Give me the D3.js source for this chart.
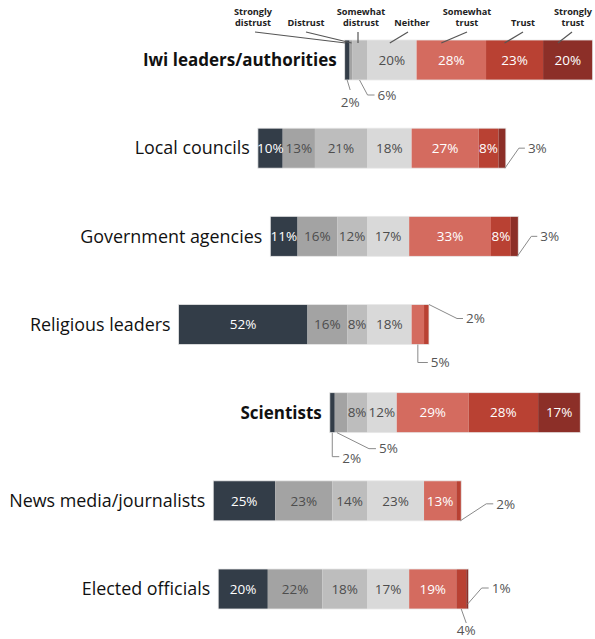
<!DOCTYPE html>
<html><head><meta charset="utf-8">
<script src="https://cdn.jsdelivr.net/npm/d3@7"></script>
<style>
body{margin:0;background:#fff;}
svg{display:block;font-family:"Open Sans",sans-serif;}
</style></head>
<body><svg id="c" width="595" height="639"></svg>
<script>
const categories = ["Iwi leaders/authorities","Local councils","Government agencies","Religious leaders","Scientists","News media/journalists","Elected officials"];
const boldCategories = ["Iwi leaders/authorities","Scientists"];
const levels = ["Strongly distrust","Distrust","Somewhat distrust","Neither","Somewhat trust","Trust","Strongly trust"];
const stronglyDistrust = [2,10,11,52,2,25,20];
const distrust         = [1,13,16,16,5,23,22];
const somewhatDistrust = [6,21,12,8,8,14,18];
const neither          = [20,18,17,18,12,23,17];
const somewhatTrust    = [28,27,33,5,29,13,19];
const trust            = [23,8,8,2,28,2,4];
const stronglyTrust    = [20,3,3,0,17,0,1];
const series = [stronglyDistrust,distrust,somewhatDistrust,neither,somewhatTrust,trust,stronglyTrust];
// small segments labelled outside the bar: [category index, level index]
const outsideLabels = [
  {c:0,l:0},{c:0,l:2},
  {c:1,l:6},{c:2,l:6},
  {c:3,l:5},{c:3,l:4},
  {c:4,l:0},{c:4,l:1},
  {c:5,l:5},
  {c:6,l:6},{c:6,l:5}
];

const colors = ["#333d48","#a3a3a3","#bdbdbd","#d9d9d9","#d46b5f","#b94133","#8c2f28"];
const textColors = ["#fff","#4d4d4d","#4d4d4d","#4d4d4d","#fff","#fff","#fff"];

const svg = d3.select("#c");
const x = d3.scaleLinear().domain([-100,100]).range([367-248,367+248]);
const bw = 40;
const yScale = d3.scalePoint().domain(categories).range([60,589]);

const rows = categories.map((cat,i)=>{
  const dist = series[0][i]+series[1][i]+series[2][i];
  let cur = -dist;
  const segs = series.map((s,l)=>{
    const seg = {cat,i,l,v:s[i],x0:cur,x1:cur+s[i]};
    cur += s[i];
    return seg;
  });
  return {cat,i,segs,start:-dist,end:cur};
});

const g = svg.append("g");
rows.forEach(r=>{
  const cy = yScale(r.cat);
  const top = cy - bw/2;
  const rg = g.append("g");
  rg.selectAll("rect").data(r.segs.filter(s=>s.v>0)).join("rect")
    .attr("x",s=>x(s.x0)).attr("y",top)
    .attr("width",s=>x(s.x1)-x(s.x0)).attr("height",bw)
    .attr("fill",s=>colors[s.l]);
  rg.append("rect").attr("x",x(r.start)).attr("y",top).attr("width",x(r.end)-x(r.start)).attr("height",bw)
    .attr("fill","none").attr("stroke","#e8e8e8").attr("stroke-width",0.8);
  rg.selectAll("text.v").data(r.segs.filter(s=>s.v>=7)).join("text").attr("class","v")
    .attr("x",s=>(x(s.x0)+x(s.x1))/2).attr("y",cy).attr("dy","0.35em")
    .attr("text-anchor","middle").attr("font-size",13.5)
    .attr("fill",s=>textColors[s.l]).text(s=>s.v+"%");
  const bold = boldCategories.includes(r.cat);
  rg.append("text").attr("x",x(r.start)-8).attr("y",cy).attr("dy","0.35em")
    .attr("text-anchor","end").attr("font-size",bold?17:17.9)
    .attr("font-weight",bold?700:400).attr("fill","#111").text(r.cat);
});

// leader label styles: offsets for the annotation paths
const leaderStyle = {
  "0-0":{from:"bottom",pts:[[0,0],[3,10]],tx:3,ty:22,anchor:"middle"},
  "0-2":{from:"bottom",pts:[[0,0],[8,15],[15,15]],tx:18,ty:15,anchor:"start"},
  "1-6":{from:"bottomright",pts:[[0,0],[14,-20],[20,-20]],tx:23,ty:-20,anchor:"start"},
  "2-6":{from:"bottomright",pts:[[0,0],[14,-20],[20,-20]],tx:23,ty:-20,anchor:"start"},
  "3-5":{from:"topright",pts:[[0,0],[28,14],[34,14]],tx:37,ty:14,anchor:"start"},
  "3-4":{from:"bottom",pts:[[0,0],[0,18],[10,18]],tx:13,ty:18,anchor:"start"},
  "4-0":{from:"bottom",pts:[[0,0],[0,24],[7,24]],tx:10,ty:26,anchor:"start"},
  "4-1":{from:"bottom",pts:[[-4,0],[28,16],[35,16]],tx:38,ty:16,anchor:"start"},
  "5-5":{from:"bottomright",pts:[[0,0],[26,-17],[33,-17]],tx:36,ty:-17,anchor:"start"},
  "6-6":{from:"bottomright",pts:[[0,-5],[14,-21],[21,-21]],tx:24,ty:-21,anchor:"start"},
  "6-5":{from:"bottom",pts:[[0,0],[5,14]],tx:5,ty:21,anchor:"middle"}
};
outsideLabels.forEach(o=>{
  const r = rows[o.c];
  const s = r.segs[o.l];
  const cy = yScale(r.cat);
  const st = leaderStyle[o.c+"-"+o.l];
  let ax, ay;
  if(st.from==="bottom"){ax=(x(s.x0)+x(s.x1))/2; ay=cy+bw/2;}
  else if(st.from==="bottomright"){ax=x(r.end)-1; ay=cy+bw/2;}
  else {ax=x(r.end); ay=cy-bw/2;}
  const line = d3.line();
  g.append("path").attr("d",line(st.pts.map(p=>[ax+p[0],ay+p[1]])))
    .attr("fill","none").attr("stroke","#8a8a8a").attr("stroke-width",1);
  g.append("text").attr("x",ax+st.tx).attr("y",ay+st.ty).attr("dy","0.35em")
    .attr("text-anchor",st.anchor).attr("font-size",13.5).attr("fill","#555").text(s.v+"%");
});

// legend on top of first bar
const legendPos = [
  {lines:["Strongly","distrust"],cx:253,lx:255},
  {lines:["Distrust"],cx:306,lx:306},
  {lines:["Somewhat","distrust"],cx:361,lx:358},
  {lines:["Neither"],cx:412,lx:408},
  {lines:["Somewhat","trust"],cx:467,lx:467},
  {lines:["Trust"],cx:523,lx:523},
  {lines:["Strongly","trust"],cx:573,lx:572}
];
const r0 = rows[0];
const top0 = yScale(r0.cat)-bw/2;
levels.forEach((lv,l)=>{
  const p = legendPos[l];
  const s = r0.segs[l];
  const tx = l===0 ? x(s.x0)+1 : (l===1? x(s.x0)+2 : (x(s.x0)+x(s.x1))/2 + (l===3?-2:(l>=4?-10:-2)));
  const lg = g.append("g");
  lg.append("path").attr("d",d3.line()([[p.lx,32],[l===2?p.lx:(tx),top0+3]]))
    .attr("stroke","#555").attr("stroke-width",1.2).attr("fill","none");
  p.lines.forEach((ln,k)=>{
    lg.append("text").attr("text-anchor","middle").attr("font-size",9.2).attr("font-weight",700).attr("fill","#222")
      .attr("x",p.cx).attr("y",p.lines.length===2?(k===0?14.5:26):26).text(ln);
  });
});
</script></body></html>
